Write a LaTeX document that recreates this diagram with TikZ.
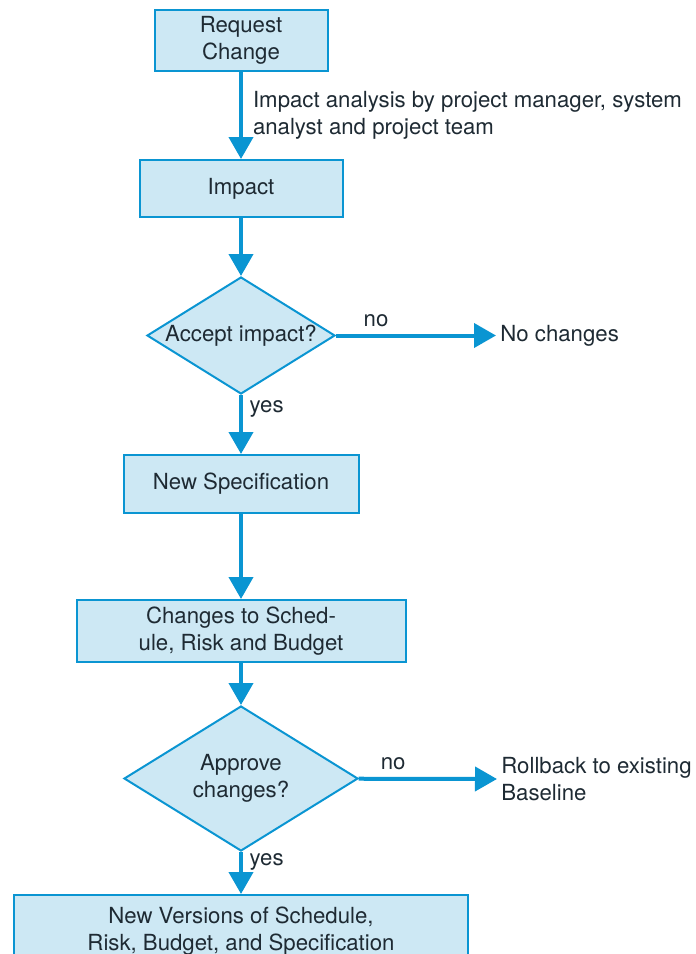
\documentclass[tikz,border=0pt]{standalone}
\usepackage{fontspec}
\setmainfont{TeX Gyre Heros}
\usetikzlibrary{shapes.geometric}
\usetikzlibrary{arrows.meta}
\usepackage{xcolor}
\definecolor{flowblue}{HTML}{0A95D2}
\definecolor{boxfill}{HTML}{CDE8F4}
\definecolor{inktext}{HTML}{1E2A33}

\begin{document}
\begin{tikzpicture}[x=0.5pt,y=-0.5pt,
  every node/.style={text=inktext,font=\fontsize{11.1}{13.5}\selectfont},
  box/.style={rectangle,draw=flowblue,fill=boxfill,line width=1pt,align=center,inner sep=0pt},
  decision/.style={diamond,draw=flowblue,fill=boxfill,line width=1pt,align=center,inner sep=-8pt},
  flow/.style={draw=flowblue,line width=2pt,-{Triangle[width=12pt,length=11pt]}}]
  \useasboundingbox (0,0) rectangle (696,954);
  \clip (0,0) rectangle (696,954);
  \node [box,minimum width=86.5pt,minimum height=30.5pt](request) at (241,40.5) {Request\\Change};
    \node [box,minimum width=101.5pt,minimum height=28.5pt](impact) at (241,188.5) {Impact};
    \node [decision,minimum width=94pt,minimum height=58.5pt](accept) at (241,335.5) {Accept impact?};
    \node [anchor=west,inner sep=2pt](nochange) at (496,335.5) {No changes};
    \node [box,minimum width=117.5pt,minimum height=29pt](spec) at (241,484) {New Specification};
    \node [box,minimum width=164.5pt,minimum height=31pt](sched) at (241,631) {Changes to Sched-\\ule, Risk and Budget};
    \node [decision,minimum width=117pt,minimum height=72.5pt](approve) at (241,778.5) {Approve\\changes?};
    \node [anchor=west,inner sep=2pt,align=left](rollback) at (497,779) {Rollback to existing\\Baseline};
    \node [box,minimum width=227pt,minimum height=36pt](versions) at (241,931) {New Versions of Schedule,\\Risk, Budget, and Specification};
    \draw [flow] (request) -- node[right,align=left,inner sep=5pt]{Impact analysis by project manager, system\\analyst and project team} (impact);
    \draw [flow] (impact) -- (accept);
    \draw [flow] (accept) -- node[above,pos=0.25]{no} (nochange);
    \draw [flow] (accept) -- node[right,pos=0.24]{yes} (spec);
    \draw [flow] (spec) -- (sched);
    \draw [flow] (sched) -- (approve);
    \draw [flow] (approve) -- node[above,pos=0.25]{no} (rollback.west);
    \draw [flow] (approve) -- node[right,pos=0.24]{yes} (versions);
\end{tikzpicture}
\end{document}
